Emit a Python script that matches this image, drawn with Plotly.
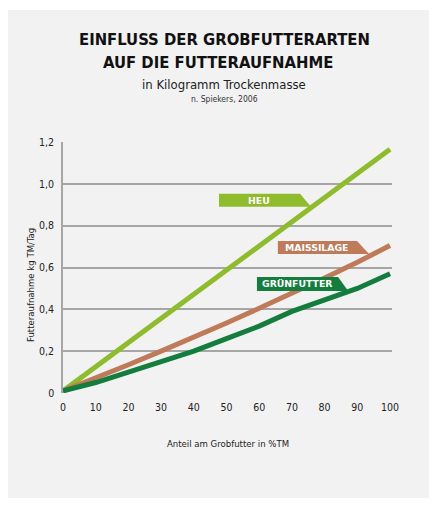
import plotly.graph_objects as go

anteil = [0, 10, 20, 30, 40, 50, 60, 70, 80, 90, 100]
heu = [0.01, 0.125, 0.24, 0.355, 0.47, 0.585, 0.70, 0.815, 0.93, 1.05, 1.165]
maissilage = [0.01, 0.07, 0.135, 0.20, 0.265, 0.335, 0.405, 0.475, 0.55, 0.625, 0.705]
gruenfutter = [0.01, 0.05, 0.10, 0.15, 0.20, 0.26, 0.32, 0.39, 0.445, 0.50, 0.57]

series_names = ["HEU", "MAISSILAGE", "GRÜNFUTTER"]
series_values = [heu, maissilage, gruenfutter]
colors = ["#8fbc2c", "#bf7a5a", "#127d3c"]

x_ticks = [0, 10, 20, 30, 40, 50, 60, 70, 80, 90, 100]
y_ticks = [0, 0.2, 0.4, 0.6, 0.8, 1.0, 1.2]
y_tick_labels = ["0", "0,2", "0,4", "0,6", "0,8", "1,0", "1,2"]

# tag geometry (data units): x_left, x_top_right, x_bottom_right, y_top, y_bottom, text_x
tags = [
    (47.7, 72.5, 75.8, 0.952, 0.890, 59.8),
    (65.7, 89.9, 93.6, 0.727, 0.665, 77.5),
    (59.3, 84.1, 87.2, 0.555, 0.488, 71.6),
]

OFF = 8  # page body margin
W, H = 437 - OFF, 510 - OFF
L, R, T, B = 63 - OFF, 392 - OFF, 142 - OFF, 393 - OFF

cond = "Liberation Sans Narrow, DejaVu Sans Condensed, sans-serif"


def px_x(p):
    return (p - OFF - L) / (R - L)


def px_y(p):
    return (B - (p - OFF)) / (B - T)


fig = go.Figure()
for name, vals, c in zip(series_names, series_values, colors):
    fig.add_trace(go.Scatter(x=anteil, y=vals, mode="lines", name=name,
                             line=dict(color=c, width=5), showlegend=False,
                             hoverinfo="skip"))

shapes = [dict(type="rect", xref="paper", yref="paper",
               x0=px_x(6), x1=px_x(430), y0=px_y(498), y1=px_y(10),
               fillcolor="#f2f2f2", line=dict(width=0), layer="below")]
annotations = []
for (xl, xtr, xbr, yt, yb, tx), name, c in zip(tags, series_names, colors):
    shapes.append(dict(type="path", xref="x", yref="y",
                       path=f"M {xl},{yt} L {xtr},{yt} L {xbr},{yb} L {xl},{yb} Z",
                       fillcolor=c, line=dict(width=0), layer="above"))
    annotations.append(dict(x=tx, y=(yt + yb) / 2, xref="x", yref="y", text=name,
                            showarrow=False, xanchor="center", yanchor="middle",
                            font=dict(family="DejaVu Sans", size=9.3,
                                      color="white", weight="bold")))

title_font = dict(family="DejaVu Sans Condensed", size=16.5, color="#111111", weight="bold")
texts = [
    dict(x=px_x(224), y=px_y(40), text="EINFLUSS DER GROBFUTTERARTEN", font=title_font),
    dict(x=px_x(218), y=px_y(62), text="AUF DIE FUTTERAUFNAHME", font=title_font),
    dict(x=px_x(224), y=px_y(84), text="in Kilogramm Trockenmasse",
         font=dict(family=cond, size=13, color="#222222")),
    dict(x=px_x(224), y=px_y(99), text="n. Spiekers, 2006",
         font=dict(family=cond, size=8.5, color="#333333")),
    dict(x=px_x(228), y=px_y(443), text="Anteil am Grobfutter in %TM",
         font=dict(family=cond, size=9.5, color="#222222")),
    dict(x=px_x(30), y=px_y(285), text="Futteraufnahme kg TM/Tag", textangle=-90,
         font=dict(family=cond, size=9.5, color="#222222")),
]
for a in texts:
    a.update(xref="paper", yref="paper", showarrow=False, xanchor="center", yanchor="middle")
annotations += texts

fig.update_layout(
    width=W, height=H,
    margin=dict(l=L, r=W - R, t=T, b=H - B),
    paper_bgcolor="white", plot_bgcolor="rgba(0,0,0,0)",
    shapes=shapes, annotations=annotations,
    xaxis=dict(range=[0, 100.6], tickvals=x_ticks, showgrid=False, zeroline=False,
               showline=False, ticks="", ticklabelstandoff=6,
               tickfont=dict(family=cond, size=10.5, color="#222222"),
               fixedrange=True),
    yaxis=dict(range=[0, 1.2], tickvals=y_ticks, ticktext=y_tick_labels,
               showgrid=True, gridcolor="#a6a6a6", gridwidth=1.5,
               zeroline=False, showline=True, linecolor="#a6a6a6", linewidth=1.5,
               ticks="", ticklabelstandoff=5,
               tickfont=dict(family=cond, size=10.5, color="#222222"), fixedrange=True),
)

fig.write_html("out.html")
